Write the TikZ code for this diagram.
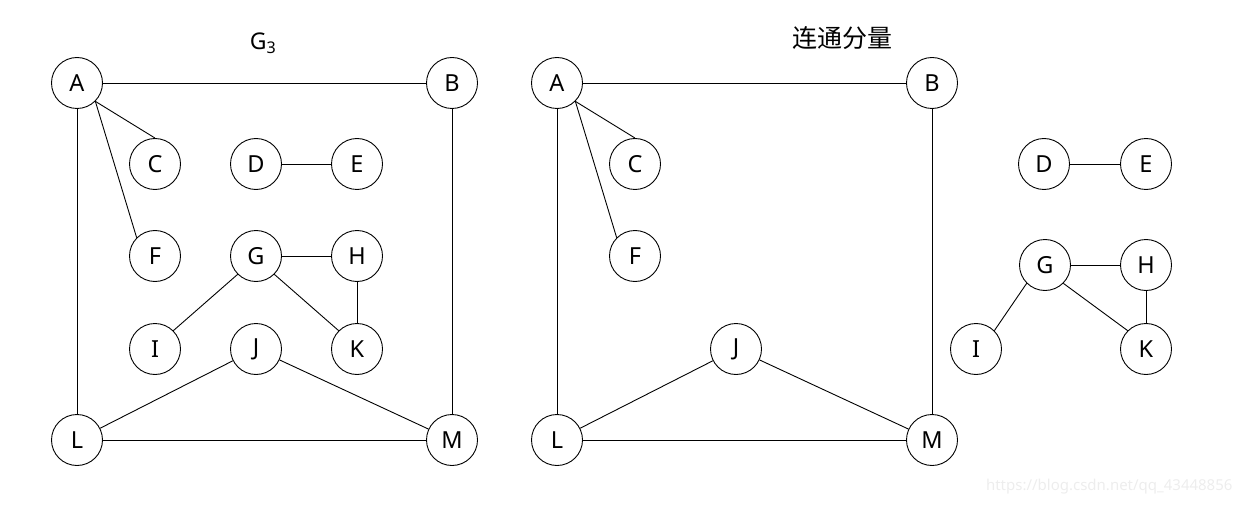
\documentclass[tikz,border=0pt]{standalone}
\usepackage{fontspec}
\setmainfont{Noto Sans}
\newfontfamily\cjk{Noto Sans CJK SC}
\begin{document}
\begin{tikzpicture}[x=1pt,y=-1pt,
  vtx/.style={circle,draw,line width=0.9pt,minimum size=51pt,inner sep=0pt,font=\fontsize{23.5}{25}\selectfont},
  edge/.style={line width=0.9pt}]
\useasboundingbox (0,0) rectangle (1244,505);
% left graph
\node[font=\fontsize{23}{25}\selectfont] (t1) at (263,43) {G$_{\mathrm{3}}$};
\node[vtx] (A) at (77,83) {A};
\node[vtx] (B) at (452,83) {B};
\node[vtx] (C) at (155,164) {C};
\node[vtx] (D) at (256,164) {D};
\node[vtx] (E) at (357,164) {E};
\node[vtx] (F) at (155,256) {F};
\node[vtx] (G) at (256,256) {G};
\node[vtx] (H) at (357,256) {H};
\node[vtx] (I) at (155,349) {I};
\node[vtx] (J) at (256,349) {J};
\node[vtx] (K) at (357,349) {K};
\node[vtx] (L) at (77,440) {L};
\node[vtx] (M) at (452,440) {M};
\draw[edge] (A) -- (B);
\draw[edge] (A.south east) -- (C.north);
\draw[edge] (A.south east) -- (F.north west);
\draw[edge] (A) -- (L);
\draw[edge] (B) -- (M);
\draw[edge] (D) -- (E);
\draw[edge] (G) -- (H);
\draw[edge] (G.south west) -- (I.north east);
\draw[edge] (G.south east) -- (K.north west);
\draw[edge] (H) -- (K);
\draw[edge] (J) -- (L);
\draw[edge] (J) -- (M);
\draw[edge] (L) -- (M);
% right graph
\node[font=\cjk\fontsize{25}{27}\selectfont] (t2) at (842,38) {连通分量};
\node[vtx] (A2) at (557,83) {A};
\node[vtx] (B2) at (932,83) {B};
\node[vtx] (C2) at (635,164) {C};
\node[vtx] (F2) at (635,256) {F};
\node[vtx] (J2) at (736,349) {J};
\node[vtx] (L2) at (557,440) {L};
\node[vtx] (M2) at (932,440) {M};
\node[vtx] (D2) at (1044,164) {D};
\node[vtx] (E2) at (1146,164) {E};
\node[vtx] (G2) at (1045,265) {G};
\node[vtx] (H2) at (1146,265) {H};
\node[vtx] (I2) at (976,349) {I};
\node[vtx] (K2) at (1146,349) {K};
\draw[edge] (A2) -- (B2);
\draw[edge] (A2.south east) -- (C2.north);
\draw[edge] (A2.south east) -- (F2.north west);
\draw[edge] (A2) -- (L2);
\draw[edge] (B2) -- (M2);
\draw[edge] (J2) -- (L2);
\draw[edge] (J2) -- (M2);
\draw[edge] (L2) -- (M2);
\draw[edge] (D2) -- (E2);
\draw[edge] (G2) -- (H2);
\draw[edge] (G2.south west) -- (I2.north east);
\draw[edge] (G2.south east) -- (K2.north west);
\draw[edge] (H2) -- (K2);
% watermark
\node[text=black!7,font=\fontsize{15}{17}\selectfont,anchor=east] (wm) at (1236,487) {https://blog.csdn.net/qq\_43448856};
\end{tikzpicture}
\end{document}
